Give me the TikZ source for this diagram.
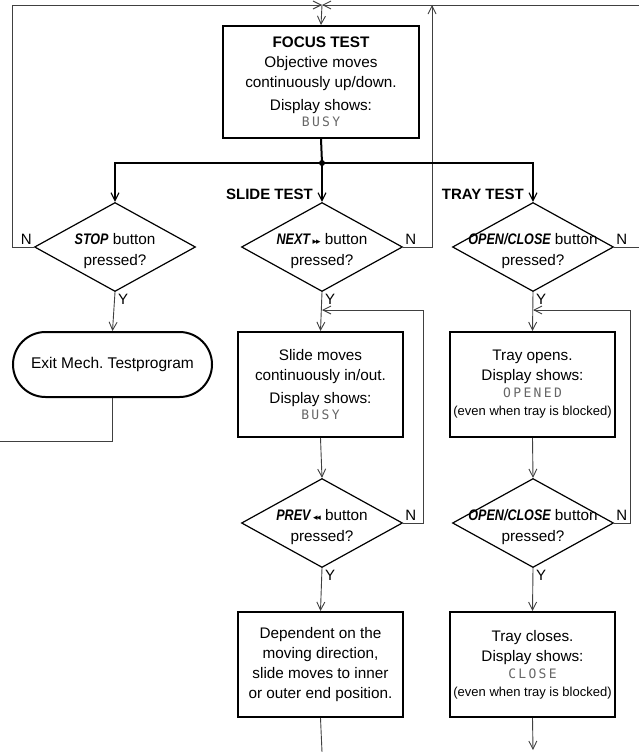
\documentclass[tikz,border=0pt]{standalone}
\usepackage{fontspec}
\usepackage{graphicx}
\setmainfont{Liberation Sans}
\newfontfamily\symfont{DejaVu Sans}
\newfontfamily\lcdfont[LetterSpace=18]{DejaVu Sans Mono}
\usetikzlibrary{arrows.meta,shapes.geometric,shapes.misc}
\frenchspacing
\newcommand{\lcdtxt}[1]{{\lcdfont\fontsize{13}{13}\selectfont\color{black!60}#1}}
\newcommand{\cond}[1]{\scalebox{0.82}[1]{\bfseries\itshape #1}}
\newcommand{\ffw}{{\symfont\fontsize{9}{9}\selectfont ▸\kern-1.2pt▸}}
\newcommand{\rew}{{\symfont\fontsize{9}{9}\selectfont ◂\kern-1.2pt◂}}
\begin{document}
\begin{tikzpicture}[x=1pt,y=-1pt,
  thin/.style={line width=0.9pt,draw=black!75},
  thk/.style={line width=2pt,draw=black},
  arr/.style={-{Straight Barb[length=8pt,width=8pt,line width=0.9pt]}},
  tarr/.style={-{Straight Barb[length=8pt,width=8pt,line width=1.1pt]}},
  box/.style={draw,line width=2pt,minimum width=165pt,minimum height=105pt,inner sep=0pt,align=center,font=\fontsize{15.3}{20}\selectfont},
  dia/.style={diamond,draw,line width=1.2pt,minimum width=161pt,minimum height=89pt,inner sep=0pt},
  dtxt/.style={align=center,font=\fontsize{15.3}{21}\selectfont,inner sep=0pt,yshift=-4pt},
  term/.style={rounded rectangle,draw,line width=2pt,minimum width=199pt,minimum height=65pt,inner sep=0pt,font=\fontsize{15.5}{20}\selectfont},
  lab/.style={font=\fontsize{15}{15}\selectfont,inner sep=1pt},
  hd/.style={font=\fontsize{15}{15}\selectfont\bfseries,inner sep=1pt}
]
\useasboundingbox (0,0) rectangle (639,752);

% boxes
\node[box,minimum width=196pt,minimum height=112pt] (focus) at (321,82)
  {{\bfseries FOCUS TEST}\\Objective moves\\continuously up/down.\\[3pt]Display shows:\\[-4pt]\lcdtxt{BUSY}};
\node[dia] (stop) at (115,247) {};
\node[dtxt] (stopt) at (stop) {\cond{STOP} button\\pressed?};
\node[dia] (next) at (322,247) {};
\node[dtxt] (nextt) at (next) {\cond{NEXT}\,\ffw\ button\\pressed?};
\node[dia] (tray) at (533,247) {};
\node[dtxt] (trayt) at (tray) {\cond{OPEN/CLOSE} button\\pressed?};
\node[term] (exit) at (112.5,364.5) {Exit Mech. Testprogram};
\node[box] (slide) at (320.5,384.5)
  {Slide moves\\continuously in/out.\\[3pt]Display shows:\\[-4pt]\lcdtxt{BUSY}};
\node[box] (topen) at (532.5,384.5)
  {Tray opens.\\Display shows:\\[-3pt]\lcdtxt{OPENED}\\[-2pt]{\fontsize{13}{16}\selectfont(even when tray is blocked)}};
\node[dia] (prev) at (322,523) {};
\node[dtxt] (prevt) at (prev) {\cond{PREV}\,\rew\ button\\pressed?};
\node[dia] (oc) at (533,523) {};
\node[dtxt] (oct) at (oc) {\cond{OPEN/CLOSE} button\\pressed?};
\node[box] (dep) at (320.5,664.5)
  {Dependent on the\\moving direction,\\slide moves to inner\\or outer end position.};
\node[box] (tclose) at (532.5,664.5)
  {Tray closes.\\Display shows:\\[-3pt]\lcdtxt{CLOSE}\\[-2pt]{\fontsize{13}{16}\selectfont(even when tray is blocked)}};

% labels
\node[hd,anchor=south east] (slt) at (314,201) {SLIDE TEST};
\node[hd,anchor=south east] (trt) at (525,201) {TRAY TEST};
\node[lab,anchor=south east] (n1) at ([xshift=-1pt,yshift=1pt]stop.west) {N};
\node[lab,anchor=south west] (n2) at ([xshift=1pt,yshift=1pt]next.east) {N};
\node[lab,anchor=south west] (n3) at ([xshift=1pt,yshift=1pt]tray.east) {N};
\node[lab,anchor=south west] (n4) at ([xshift=1pt,yshift=1pt]prev.east) {N};
\node[lab,anchor=south west] (n5) at ([xshift=1pt,yshift=1pt]oc.east) {N};
\node[lab,anchor=north west] (y1) at ([xshift=2pt,yshift=-1pt]stop.south) {Y};
\node[lab,anchor=north west] (y2) at ([xshift=2pt,yshift=-1pt]next.south) {Y};
\node[lab,anchor=north west] (y3) at ([xshift=2pt,yshift=-1pt]tray.south) {Y};
\node[lab,anchor=north west] (y4) at ([xshift=2pt,yshift=-1pt]prev.south) {Y};
\node[lab,anchor=north west] (y5) at ([xshift=2pt,yshift=-1pt]oc.south) {Y};

% coordinates
\coordinate (tl) at (12,5);
\coordinate (tc) at (322,5);
\coordinate (tr) at (639,5);
\coordinate (ru) at (432,5);
\coordinate (j) at (322,163);
\coordinate (re) at (639,247);
\coordinate (ex) at (0,441);
\coordinate (sl) at (423,310);
\coordinate (slin) at (322,310);
\coordinate (tl2) at (630,310);
\coordinate (trin) at (533,310);
\coordinate (se) at (322,752);
\coordinate (te) at (533,750);

% top connectors
\draw[thin,arr] (tl) -- (tc);
\draw[thin,arr] (tr) -- (tc);
\draw[thin,arr] (tc) -- (focus.north);
\draw[thin] (stop.west) -| (tl);
\draw[thin,arr] (next.east) -| (ru);
\draw[thin] (tray.east) -- (re);

% distribution
\draw[thk] (focus.south) -- (j);
\draw[thk,tarr] (j) -| (stop.north);
\draw[thk,tarr] (j) -| (tray.north);
\draw[thk,tarr] (j) -- (next.north);
\fill (j) circle (3pt);

% left column
\draw[thin,arr] (stop.south) -- (exit.north);
\draw[thin] (exit.south) |- (ex);

% middle column
\draw[thin,arr] (next.south) -- (slide.north);
\draw[thin,arr] (prev.east) -| (sl) -- (slin);
\draw[thin,arr] (slide.south) -- (prev.north);
\draw[thin,arr] (prev.south) -- (dep.north);
\draw[thin] (dep.south) -- (se);

% right column
\draw[thin,arr] (tray.south) -- (topen.north);
\draw[thin,arr] (oc.east) -| (tl2) -- (trin);
\draw[thin,arr] (topen.south) -- (oc.north);
\draw[thin,arr] (oc.south) -- (tclose.north);
\draw[thin,arr] (tclose.south) -- (te);
\end{tikzpicture}
\end{document}
